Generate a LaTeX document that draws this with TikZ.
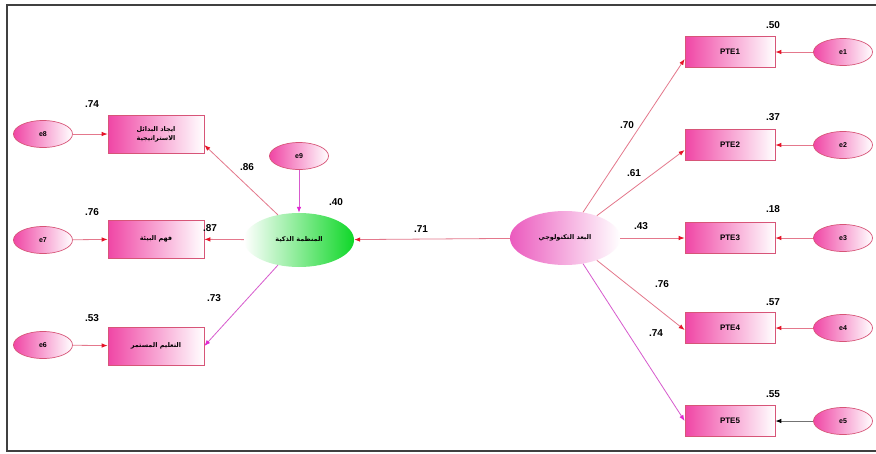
\documentclass[tikz,border=0pt]{standalone}
\usepackage{fontspec}
\setmainfont{Liberation Sans}
\newfontfamily\arabicfont[Script=Arabic]{DejaVu Sans}
\TeXXeTstate=1
\usetikzlibrary{arrows.meta,shapes.geometric}
\definecolor{bdr}{RGB}{215,85,120}
\definecolor{mag}{RGB}{240,70,165}
\definecolor{lnred}{RGB}{228,120,140}
\definecolor{tipred}{RGB}{230,20,40}
\definecolor{lnmag}{RGB}{215,90,205}
\definecolor{tipmag}{RGB}{225,40,210}
\definecolor{grn}{RGB}{15,215,40}
\definecolor{pnk}{RGB}{235,90,190}
\tikzset{
  obsL/.style={rectangle, draw=bdr, line width=0.7pt, minimum width=96pt, minimum height=38pt,
    left color=mag, right color=white, inner sep=1pt, align=center,
    font=\arabicfont\bfseries\fontsize{6.5}{8}\selectfont},
  obsR/.style={rectangle, draw=bdr, line width=0.7pt, minimum width=90pt, minimum height=31pt,
    left color=mag, right color=white, inner sep=1pt, font=\bfseries\fontsize{8}{9}\selectfont},
  err/.style={ellipse, draw=bdr, line width=0.7pt, minimum width=59pt, minimum height=27pt,
    left color=mag, right color=white, inner sep=0pt, font=\bfseries\fontsize{7}{8}\selectfont},
  lat/.style={ellipse, minimum width=110pt, minimum height=54pt, inner sep=0pt,
    font=\arabicfont\bfseries\fontsize{6.5}{8}\selectfont},
  num/.style={font=\bfseries\fontsize{10}{11}\selectfont, inner sep=0pt},
  redarr/.style={draw=lnred, line width=0.8pt, -{Latex[length=6pt,width=4.5pt,color=tipred]}},
  magarr/.style={draw=lnmag, line width=0.8pt, -{Latex[length=6pt,width=4.5pt,color=tipmag]}},
  blkarr/.style={draw=black!55, line width=0.8pt, -{Latex[length=6pt,width=4.5pt,color=black]}},
}
\begin{document}
\begin{tikzpicture}[x=1pt,y=-1pt]
\useasboundingbox (0,0) rectangle (876,453);
\fill[white] (0,0) rectangle (876,453);
\draw[line width=2.6pt, black!75] (876,5) -- (7,5) -- (7,451) -- (876,451);

% left observed
\node[obsL] (b1) at (156,134) {\beginR ايجاد البدائل\endR\\[1pt]\beginR الاستراتيجية\endR};
\node[obsL] (b2) at (156,239) {\beginR فهم البيئة\endR};
\node[obsL] (b3) at (156,346) {\beginR التعليم المستمر\endR};
\node[err] (e8) at (43,134) {e8};
\node[err] (e7) at (43,240) {e7};
\node[err] (e6) at (43,345) {e6};
\node[err] (e9) at (299,156) {e9};

% latents
\node[lat, left color=white, right color=grn] (g) at (299,240) {\beginR المنظمة الذكية\endR};
\node[lat, left color=pnk, right color=white] (p) at (565,238) {\beginR البعد التكنولوجي\endR};

% right observed
\node[obsR] (t1) at (730,52) {PTE1};
\node[obsR] (t2) at (730,145) {PTE2};
\node[obsR] (t3) at (730,238) {PTE3};
\node[obsR] (t4) at (730,328) {PTE4};
\node[obsR] (t5) at (730,421) {PTE5};
\node[err] (e1) at (843,52) {e1};
\node[err] (e2) at (843,145) {e2};
\node[err] (e3) at (843,238) {e3};
\node[err] (e4) at (843,328) {e4};
\node[err] (e5) at (843,421) {e5};

% arrows
\draw[redarr] (e8) -- (b1);
\draw[redarr] (e7) -- (b2);
\draw[redarr] (e6) -- (b3);
\draw[redarr] (g.130) -- ([yshift=-11pt]b1.east);
\draw[redarr] (g) -- (b2);
\draw[magarr] (g.-130) -- (b3.east);
\draw[magarr] (e9) -- (g);
\draw[redarr] (p) -- (g);
\draw[redarr] (p.55) -- ([yshift=-7pt]t1.west);
\draw[redarr] (p.35) -- ([yshift=-5pt]t2.west);
\draw[redarr] (p) -- (t3);
\draw[redarr] (p.-35) -- ([yshift=-2pt]t4.west);
\draw[magarr] (p.-55) -- (t5.west);
\draw[redarr] (e1) -- (t1);
\draw[redarr] (e2) -- (t2);
\draw[redarr] (e3) -- (t3);
\draw[redarr] (e4) -- (t4);
\draw[blkarr] (e5) -- (t5);

% numbers
\node[num] (n1) at (92,104) {.74};
\node[num] (n2) at (92,212) {.76};
\node[num] (n3) at (92,318) {.53};
\node[num] (n4) at (247,167) {.86};
\node[num] (n5) at (210,228) {.87};
\node[num] (n6) at (214,298) {.73};
\node[num] (n7) at (336,202) {.40};
\node[num] (n8) at (421,229) {.71};
\node[num] (n9) at (773,25) {.50};
\node[num] (n10) at (773,117) {.37};
\node[num] (n11) at (773,209) {.18};
\node[num] (n12) at (773,302) {.57};
\node[num] (n13) at (773,394) {.55};
\node[num] (n14) at (627,125) {.70};
\node[num] (n15) at (634,173) {.61};
\node[num] (n16) at (641,226) {.43};
\node[num] (n17) at (662,284) {.76};
\node[num] (n18) at (656,333) {.74};
\end{tikzpicture}
\end{document}
